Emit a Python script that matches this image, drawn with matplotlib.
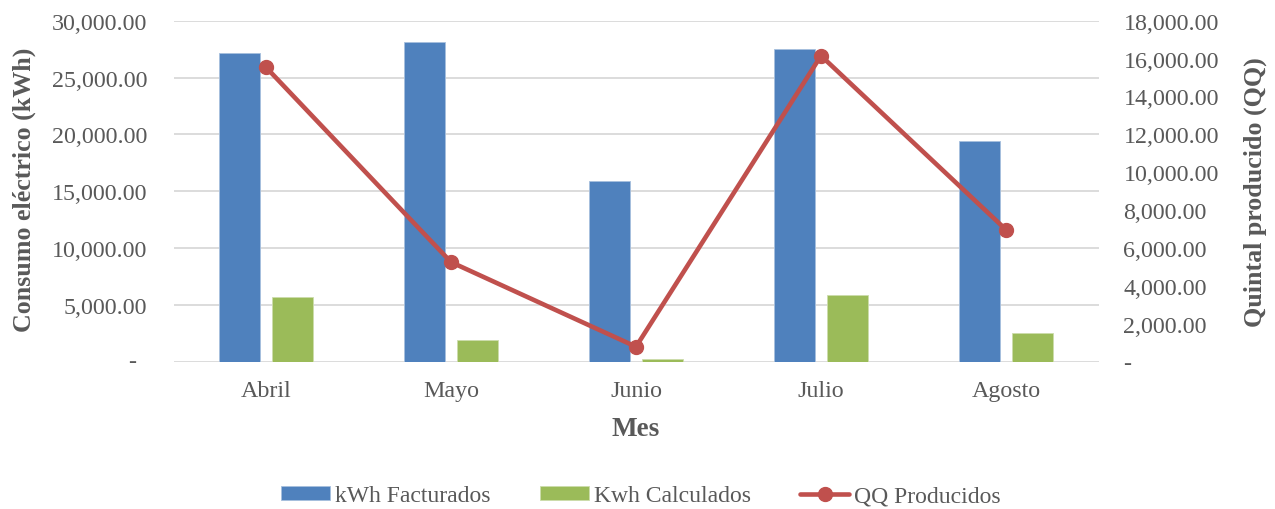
import matplotlib
matplotlib.use("Agg")
import matplotlib.pyplot as plt
from matplotlib.ticker import FuncFormatter, MultipleLocator
import numpy as np

# Monthly data
meses = ["Abril", "Mayo", "Junio", "Julio", "Agosto"]
kwh_facturados = [27150, 28150, 15900, 27500, 19450]
kwh_calculados = [5660, 1900, 230, 5860, 2510]
qq_producidos = [15540, 5250, 780, 16150, 6960]

BLUE = "#4F81BD"
GREEN = "#9BBB59"
RED = "#C0504D"
GRID = "#D9D9D9"
TEXT = "#595959"

plt.rcParams["font.family"] = ["Liberation Serif", "DejaVu Serif"]

W, H = 1275, 510
fig = plt.figure(figsize=(W / 100, H / 100), dpi=100)
left, right, top, bottom = 173.5, 1098.5, 21.7, 362.5
ax = fig.add_axes([left / W, 1 - bottom / H, (right - left) / W, (bottom - top) / H])
ax2 = ax.twinx()

x = np.arange(len(meses))
bw = 0.224
off = 0.143
ax.bar(x - off, kwh_facturados, bw, color=BLUE, edgecolor="#A7C0DE", linewidth=0.6,
       label="kWh Facturados", zorder=2)
ax.bar(x + off, kwh_calculados, bw, color=GREEN, edgecolor="#CDDDAC", linewidth=0.6,
       label="Kwh Calculados", zorder=2)
ax2.plot(x, qq_producidos, color=RED, linewidth=3.3, marker="o", markersize=10,
         solid_capstyle="round", label="QQ Producidos", zorder=3)

ax.set_xlim(-0.5, len(meses) - 0.5)
ax.set_ylim(0, 30000)
ax2.set_ylim(0, 18000)
ax.yaxis.set_major_locator(MultipleLocator(5000))
ax2.yaxis.set_major_locator(MultipleLocator(2000))


def acct_left(v, pos):
    # zero is drawn separately with its accounting-style indent
    if abs(v) < 1e-9:
        return ""
    return f"{v:,.2f}"


def acct_right(v, pos):
    if abs(v) < 1e-9:
        return "-"
    return f"{v:,.2f}"


ax.yaxis.set_major_formatter(FuncFormatter(acct_left))
ax2.yaxis.set_major_formatter(FuncFormatter(acct_right))

ax.grid(axis="y", color=GRID, linewidth=1.3, zorder=0)
ax.set_axisbelow(True)
for a in (ax, ax2):
    for s in a.spines.values():
        s.set_visible(False)
ax.set_xticks(x)
ax.set_xticklabels(meses)
ax.tick_params(axis="x", length=0, pad=13, labelsize=17.3, labelcolor=TEXT)
ax.tick_params(axis="y", length=0, pad=19, labelsize=17.3, labelcolor=TEXT)
ax2.tick_params(axis="y", length=0, pad=18, labelsize=17.3, labelcolor=TEXT)

ax.annotate("-", xy=(0, 0), xycoords=("axes fraction", "data"),
            xytext=(-29.9, 0), textcoords="offset points", ha="center",
            va="center", fontsize=17.3, color=TEXT)

fig.text(24 / W, 1 - 190 / H, "Consumo eléctrico (kWh)", rotation=90, ha="center",
         va="center", fontsize=18.7, fontweight="bold", color=TEXT)
fig.text(1255 / W, 1 - 192 / H, "Quintal producido (QQ)", rotation=90, ha="center",
         va="center", fontsize=18.7, fontweight="bold", color=TEXT)
fig.text(636 / W, 1 - 430 / H, "Mes", ha="center", va="center", fontsize=19.5,
         fontweight="bold", color=TEXT)

h1, l1 = ax.get_legend_handles_labels()
h2, l2 = ax2.get_legend_handles_labels()
leg = fig.legend(h1 + h2, l1 + l2, loc="center", bbox_to_anchor=(641 / W, 1 - 497 / H),
                 ncol=3, frameon=False, fontsize=17, handlelength=2.05, handleheight=0.55,
                 columnspacing=2.1, handletextpad=0.22)
for t in leg.get_texts():
    t.set_color(TEXT)

fig.savefig("out.png", dpi=100)
